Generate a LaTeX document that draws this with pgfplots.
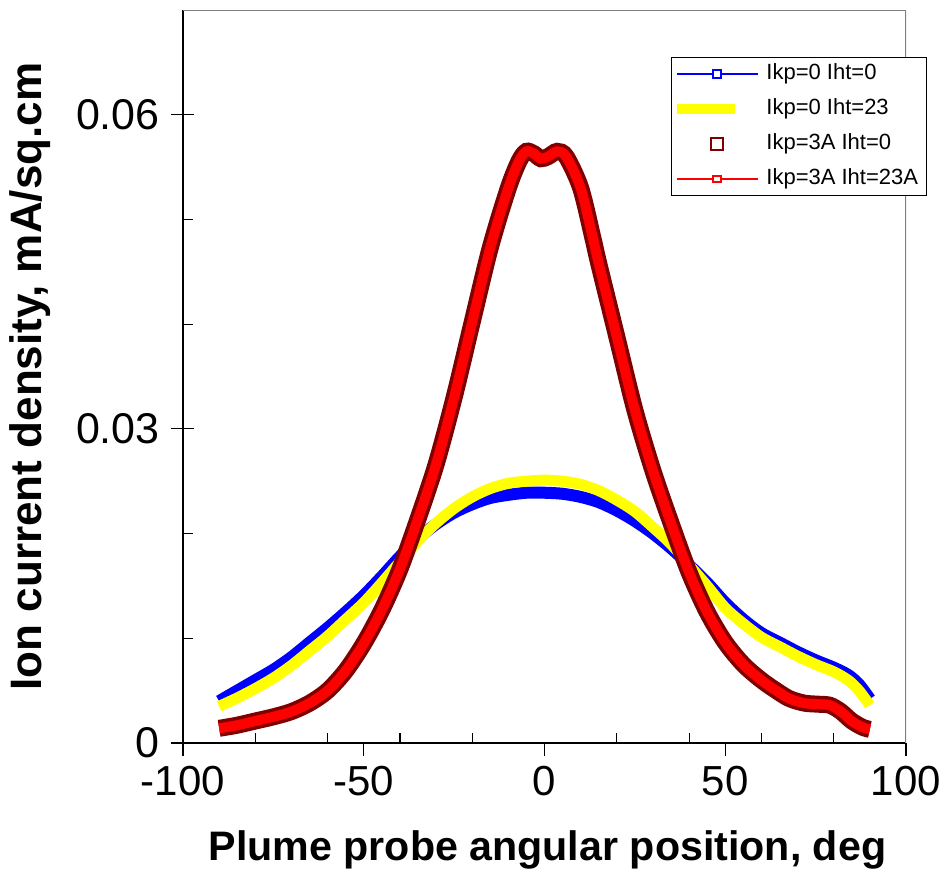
\documentclass[border=0pt]{standalone}
\usepackage{pgfplots}
\pgfplotsset{compat=1.18}
\usepackage{fontspec}
\setmainfont{Liberation Sans}
\definecolor{darkred}{RGB}{128,0,0}
\definecolor{ylw}{RGB}{255,255,0}
\definecolor{gborder}{RGB}{128,128,128}

\pgfplotstableread{
x y
-90 0.0040
-85 0.0050
-80 0.0060
-75 0.0070
-70 0.0082
-65 0.0096
-60 0.0110
-55 0.0125
-50 0.0141
-45 0.0159
-40 0.0178
-35 0.0195
-30 0.0209
-25 0.0220
-20 0.0228
-15 0.0234
-10 0.0237
-5 0.0239
0 0.0239
5 0.0238
10 0.0235
15 0.0230
20 0.0222
25 0.0212
30 0.0200
35 0.0186
40 0.0170
45 0.0153
50 0.0134
55 0.0118
60 0.0105
65 0.0096
70 0.0087
75 0.0079
80 0.0072
84 0.0065
87 0.0056
90 0.0042
}\blue

\pgfplotstableread{
x y
-90 0.0035
-85 0.0043
-80 0.0052
-75 0.0062
-70 0.0074
-65 0.0088
-60 0.0102
-55 0.0118
-50 0.0134
-45 0.0153
-40 0.0173
-35 0.0193
-30 0.0210
-25 0.0224
-20 0.0235
-15 0.0243
-10 0.0248
-5 0.0250
0 0.0251
5 0.0250
10 0.0247
15 0.0241
20 0.0232
25 0.0221
30 0.0206
35 0.0190
40 0.0170
45 0.0150
50 0.0129
55 0.0114
60 0.0101
65 0.0092
70 0.0083
75 0.0075
80 0.0068
84 0.0060
87 0.0050
90 0.0036
}\yellowdata

\pgfplotstableread{
x y
-90 0.0014
-85 0.0017
-80 0.0021
-75 0.0025
-70 0.0030
-65 0.0038
-60 0.0050
-55 0.0069
-50 0.0095
-45 0.0127
-40 0.0166
-35 0.0214
-30 0.0266
-25 0.0330
-20 0.0402
-15 0.0473
-10 0.0530
-7 0.0556
-5 0.0565
-3 0.0563
-1 0.0558
1 0.0560
3.5 0.0565
6 0.0560
10 0.0530
13.4 0.0482
15 0.0458
20 0.0388
25 0.0318
30 0.0260
35 0.0210
40 0.0163
45 0.0125
50 0.0096
55 0.0075
60 0.0060
65 0.0048
68 0.0042
72 0.0038
76 0.0037
79 0.0036
82 0.0030
85 0.0021
88 0.0015
90 0.0013
}\red

\begin{document}
\begin{tikzpicture}
\path[use as bounding box] (-91.5pt,-75pt) rectangle (379.5pt,371.5pt);
\begin{axis}[
  scale only axis, width=361.5pt, height=366.5pt,
  xmin=-100, xmax=100, ymin=0, ymax=0.07,
  axis x line*=bottom, axis y line*=left,
  axis line style={line width=1pt, black, -},
  scaled y ticks=false, scaled x ticks=false,
  xtick={-80,-60,-40,-20,20,40,60,80}, xticklabels={},
  ytick={0.01,0.02,0.04,0.05}, yticklabels={},
  tick align=inside, major tick length=5pt,
  tick style={line width=0.6pt, black},
  extra x ticks={-100,-50,0,50,100},
  extra x tick labels={-100,-50,0,50,100},
  extra x tick style={tick align=outside, major tick length=6.5pt},
  extra y ticks={0,0.03,0.06},
  extra y tick labels={0,0.03,0.06},
  extra y tick style={tick align=center, major tick length=11.5pt},
  xticklabel style={font=\fontsize{21}{25}\selectfont, inner sep=0pt, yshift=-5pt},
  yticklabel style={font=\fontsize{21.5}{25}\selectfont, inner sep=0pt, xshift=-5.7pt},
  xlabel={Plume probe angular position, deg},
  ylabel={Ion current density, mA/sq.cm},
  xlabel style={font=\bfseries\fontsize{20.6}{25}\selectfont, at={(axis description cs:0.504,-0.146)}, anchor=center},
  ylabel style={font=\bfseries\fontsize{22}{25}\selectfont, at={(axis description cs:-0.2116,0.5)}, anchor=center, rotate=0},
  legend style={at={(0.675,0.936)}, anchor=north west, draw=black, line width=0.6pt, fill=white,
    font=\fontsize{11}{13}\selectfont, inner xsep=2pt, inner ysep=1pt, row sep=3pt, column sep=1.5pt,
    nodes={inner sep=2pt, text height=8pt, text depth=2.5pt}},
  legend cell align=left,
]
\draw[gborder, line width=1pt] (rel axis cs:0,1) -- (rel axis cs:1,1) -- (rel axis cs:1,0);
\addplot[blue, line width=6pt, smooth, forget plot] table {\blue};
\addplot[ylw, line width=5.5pt, smooth, forget plot] table {\yellowdata};
\addplot[darkred, line width=8.5pt, smooth, forget plot] table {\red};
\addplot[red, line width=5pt, smooth, forget plot] table {\red};

\addlegendimage{legend image code/.code={
  \path[draw=none, fill=none] (0pt,-3pt) rectangle (40.5pt,3pt);
  \draw[blue, line width=1.4pt] (0pt,0pt) -- (40.5pt,0pt);
  \draw[blue, line width=1pt, fill=white] (18pt,-1.9pt) rectangle (22pt,1.9pt);}}
\addlegendentry{Ikp=0 Iht=0}
\addlegendimage{legend image code/.code={
  \path[draw=none, fill=none] (0pt,-3pt) rectangle (40.5pt,3pt);
  \fill[ylw, draw=none] (0pt,-2.5pt) rectangle (29pt,2.5pt);}}
\addlegendentry{Ikp=0 Iht=23}
\addlegendimage{legend image code/.code={
  \path[draw=none, fill=none] (0pt,-3pt) rectangle (40.5pt,3pt);
  \draw[darkred, line width=1.3pt, fill=white] (17pt,-3pt) rectangle (23pt,3pt);}}
\addlegendentry{Ikp=3A Iht=0}
\addlegendimage{legend image code/.code={
  \path[draw=none, fill=none] (0pt,-3pt) rectangle (40.5pt,3pt);
  \draw[red, line width=1.4pt] (0pt,0pt) -- (40.5pt,0pt);
  \draw[red, line width=1pt, fill=white] (18pt,-1.7pt) rectangle (22pt,1.7pt);}}
\addlegendentry{Ikp=3A Iht=23A}
\end{axis}
\end{tikzpicture}
\end{document}
